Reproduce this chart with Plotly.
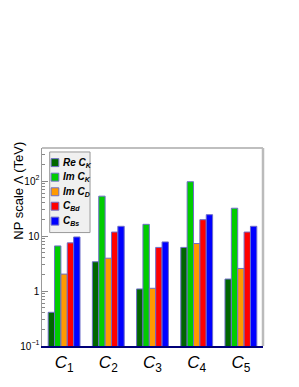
import plotly.graph_objects as go

categories = ["C1", "C2", "C3", "C4", "C5"]
cat_labels = ["<i>C</i><sub>1</sub>", "<i>C</i><sub>2</sub>", "<i>C</i><sub>3</sub>",
              "<i>C</i><sub>4</sub>", "<i>C</i><sub>5</sub>"]

re_ck = [0.41, 3.4, 1.09, 6.2, 1.65]
im_ck = [6.6, 53, 16.3, 97, 32]
im_cd = [2.03, 3.95, 1.12, 7.3, 2.57]
c_bd = [7.5, 11.8, 6.2, 19.8, 11.8]
c_bs = [9.6, 15, 7.8, 24.4, 15]

series_names = ["<b><i>Re C<sub>K</sub></i></b>", "<b><i>Im C<sub>K</sub></i></b>",
                "<b><i>Im C<sub>D</sub></i></b>", "<b><i>C<sub>Bd</sub></i></b>",
                "<b><i>C<sub>Bs</sub></i></b>"]
series_vals = [re_ck, im_ck, im_cd, c_bd, c_bs]
series_colors = ["rgb(0,102,0)", "rgb(0,204,0)", "rgb(255,153,0)", "rgb(255,0,0)", "rgb(0,0,255)"]

# page is rendered with an 8px body margin
OFF = 8
W, H = 299 - OFF, 387 - OFF
L, R, T, B = 33, 263, 148, 347  # plot area in page pixels


def px(x):
    return (x - L) / (R - L)


def py(y):
    return (B - y) / (B - T)


fig = go.Figure()
for name, vals, col in zip(series_names, series_vals, series_colors):
    fig.add_trace(go.Bar(
        x=categories, y=vals, name=name,
        marker=dict(color=col, line=dict(color="rgb(110,110,200)", width=1)),
    ))

shapes = [
    dict(type="line", xref="paper", yref="paper", x0=0, x1=1, y0=1, y1=1,
         line=dict(color="#aaaaaa", width=1.5)),
    dict(type="line", xref="paper", yref="paper", x0=1, x1=1, y0=0, y1=1,
         line=dict(color="#bbbbbb", width=2.5)),
    # legend box
    dict(type="rect", xref="paper", yref="paper", x0=px(41), x1=px(83), y0=py(233), y1=py(152),
         fillcolor="#f0f0f0", line=dict(color="#999999", width=1), layer="above"),
]
annotations = [
    dict(text="NP scale Λ (TeV)", xref="paper", yref="paper",
         x=px(9), y=py(191), xanchor="center", yanchor="middle",
         textangle=-90, showarrow=False, font=dict(size=13)),
]
entry_y = [162.7, 177.3, 192.0, 206.5, 221.5]
for name, col, yc in zip(series_names, series_colors, entry_y):
    shapes.append(dict(type="rect", xref="paper", yref="paper",
                       x0=px(42.5), x1=px(50.5), y0=py(yc + 4), y1=py(yc - 4),
                       fillcolor=col, line=dict(color="rgb(110,110,200)", width=1), layer="above"))
    annotations.append(dict(text=name, xref="paper", yref="paper", x=px(52.5), y=py(yc),
                            xanchor="left", yanchor="middle", showarrow=False,
                            font=dict(size=10)))

fig.update_layout(
    width=W, height=H,
    margin=dict(l=L - OFF, r=(W + OFF) - R, t=T - OFF, b=(H + OFF) - B, pad=0),
    paper_bgcolor="white", plot_bgcolor="white",
    barmode="group", bargap=0.28, bargroupgap=0,
    font=dict(family="Liberation Sans, Arial, sans-serif", color="black"),
    showlegend=False,
    xaxis=dict(
        tickmode="array", tickvals=categories, ticktext=cat_labels,
        tickfont=dict(size=17),
        showline=True, linecolor="rgb(0,0,120)", linewidth=1.5,
        ticks="", showgrid=False, zeroline=False, mirror=False,
    ),
    yaxis=dict(
        type="log", range=[-1, 2.6],
        tickmode="linear", tick0=0, dtick=1, exponentformat="power",
        tickfont=dict(size=8),
        ticks="inside", ticklen=6, tickcolor="#888888",
        minor=dict(ticks="inside", ticklen=3, tickcolor="#888888", dtick="D1"),
        showline=True, linecolor="#999999", linewidth=1,
        showgrid=False, zeroline=False,
    ),
    shapes=shapes,
    annotations=annotations,
)

fig.write_html("out.html")
